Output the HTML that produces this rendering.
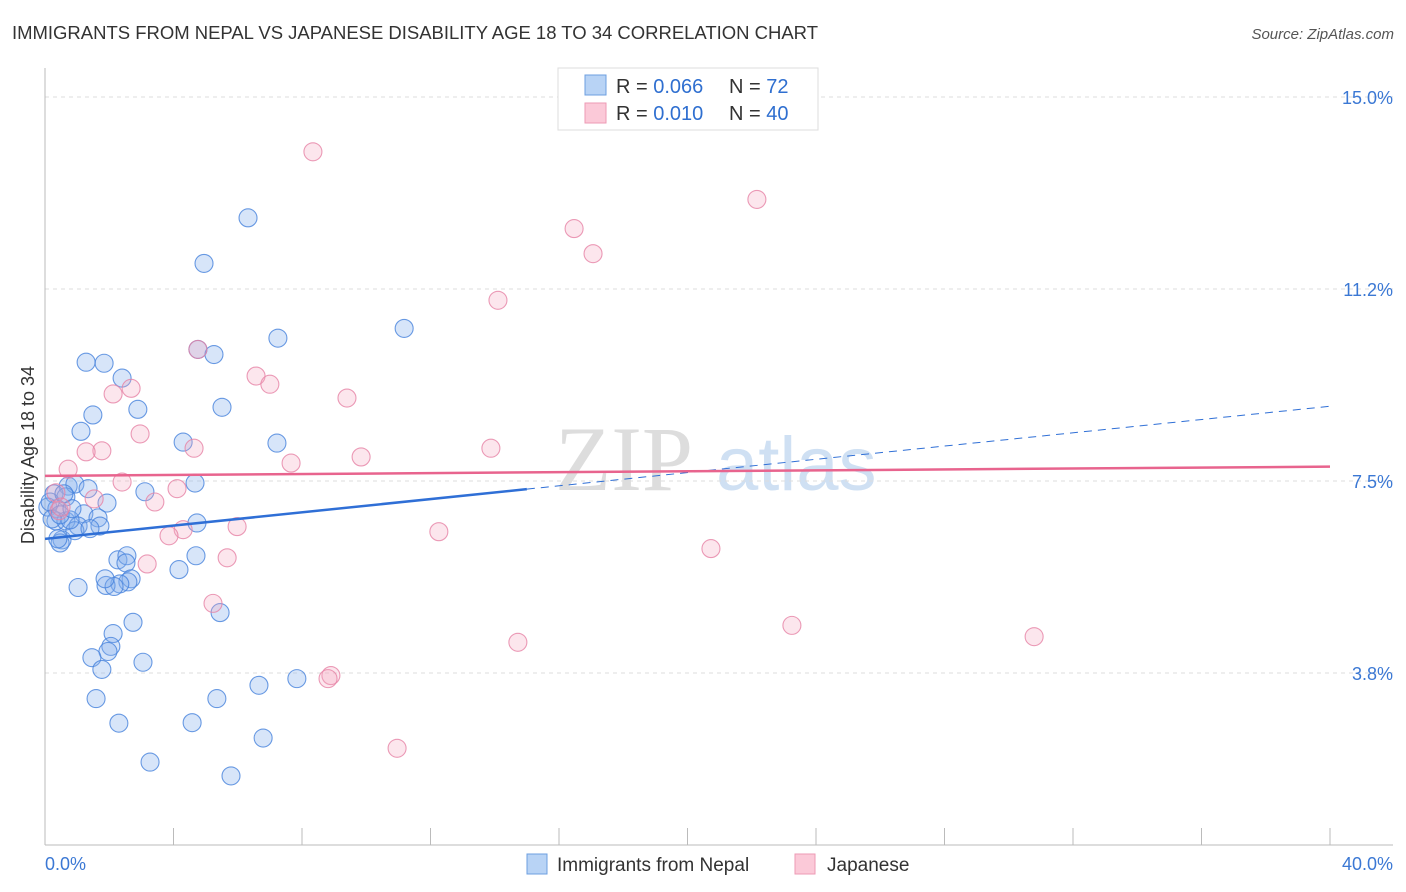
<!DOCTYPE html>
<html><head><meta charset="utf-8">
<style>
body{margin:0;background:#fff;font-family:"Liberation Sans",sans-serif;}
svg{display:block}
</style></head>
<body>
<svg id="chart" width="1406" height="892">
<text x="12" y="39" font-size="18.5" fill="#333" textLength="806">IMMIGRANTS FROM NEPAL VS JAPANESE DISABILITY AGE 18 TO 34 CORRELATION CHART</text>
<text x="1394" y="39" font-size="15" fill="#555" font-style="italic" text-anchor="end">Source: ZipAtlas.com</text>
<g>
<text x="555" y="490" font-size="92" fill="#ddd" font-family="Liberation Serif,serif">ZIP</text>
<text x="716" y="490" font-size="76" fill="#cfe0f3">atlas</text>
</g>
<g id="grid"></g>
<g id="axes"></g>
<g id="marks"></g>
<g>
<rect x="558" y="68" width="260" height="62" fill="#fff" stroke="#ddd"/>
<rect x="585" y="75" width="21" height="20" fill="#b8d3f5" stroke="#6d9fe0"/>
<rect x="585" y="103" width="21" height="20" fill="#fbc9d8" stroke="#ee9ab4"/>
<text x="616" y="93" font-size="20" fill="#333">R = <tspan fill="#2f6fd0">0.066</tspan></text>
<text x="729" y="93" font-size="20" fill="#333">N = <tspan fill="#2f6fd0"> 72</tspan></text>
<text x="616" y="120" font-size="20" fill="#333">R = <tspan fill="#2f6fd0"> 0.010</tspan></text>
<text x="729" y="120" font-size="20" fill="#333">N = <tspan fill="#2f6fd0">40</tspan></text>
</g>
<g>
<rect x="527" y="854" width="20" height="20" fill="#b8d3f5" stroke="#6d9fe0"/>
<text x="557" y="871" font-size="19" fill="#333">Immigrants from Nepal</text>
<rect x="795" y="854" width="20" height="20" fill="#fbc9d8" stroke="#ee9ab4"/>
<text x="827" y="871" font-size="19" fill="#333">Japanese</text>
</g>
<text x="34" y="455" font-size="18" fill="#333" text-anchor="middle" transform="rotate(-90 34 455)">Disability Age 18 to 34</text>
</svg>
<script>
const yTicks=[15.0,11.25,7.5,3.75];
const yTickLabels=["15.0%","11.2%","7.5%","3.8%"];
const xTickCount=10;
const nepalX=[6.32,4.95,11.18,7.25,4.76,5.26,1.28,1.84,2.40,2.89,5.51,1.49,1.12,4.30,7.22,4.67,3.11,0.72,0.93,1.34,0.28,0.65,1.93,0.09,0.37,1.21,1.65,0.34,0.65,1.03,1.71,0.53,0.93,4.73,0.47,4.70,2.27,2.55,2.52,4.17,2.68,2.58,2.33,1.90,1.03,2.15,5.45,2.74,2.12,2.05,1.96,1.46,3.05,1.77,7.84,6.66,1.59,5.35,4.58,2.30,6.79,3.27,5.79,0.22,0.78,0.16,0.47,1.40,0.84,0.59,1.87,0.40];
const nepalY=[12.64,11.75,10.48,10.29,10.07,9.97,9.82,9.80,9.51,8.90,8.94,8.79,8.47,8.26,8.24,7.46,7.29,7.40,7.44,7.35,7.25,7.19,7.07,6.99,6.96,6.86,6.78,6.72,6.72,6.62,6.62,6.35,6.53,6.68,6.29,6.04,5.96,6.04,5.90,5.77,5.59,5.53,5.49,5.46,5.42,5.44,4.93,4.74,4.52,4.27,4.17,4.05,3.96,3.82,3.64,3.51,3.25,3.25,2.78,2.77,2.48,2.01,1.74,6.76,6.74,7.09,6.84,6.57,6.96,7.25,5.59,6.37];
const japX=[8.34,22.16,16.47,17.06,14.10,4.76,6.57,7.00,2.68,2.12,9.40,2.96,4.64,13.88,1.77,1.28,9.84,7.66,0.72,2.40,4.11,1.53,3.42,0.34,0.44,0.50,5.98,4.30,3.86,12.26,20.73,5.67,3.18,5.23,23.25,14.72,30.79,8.90,8.81,10.96];
const japY=[13.93,13.00,12.43,11.94,11.03,10.07,9.55,9.39,9.31,9.20,9.12,8.42,8.14,8.14,8.09,8.07,7.97,7.85,7.73,7.48,7.35,7.15,7.09,7.27,6.92,6.99,6.61,6.55,6.43,6.51,6.18,6.00,5.88,5.11,4.68,4.35,4.46,3.70,3.64,2.28];
const nepalTrend=[6.37,8.96];
const japTrend=[7.60,7.78];
const nepalSolidEnd=15.0;

const NS="http://www.w3.org/2000/svg";
const sx=v=>45+v*(1285/40);
const sy=v=>97+(15-v)*51.2;
function mk(tag,attrs,parent){const e=document.createElementNS(NS,tag);for(const k in attrs)e.setAttribute(k,attrs[k]);document.getElementById(parent).appendChild(e);return e;}
yTicks.forEach((t,i)=>{
  const l=mk('line',{x1:45,x2:1393,y1:sy(t),y2:sy(t),stroke:'#ddd','stroke-dasharray':'4 4'},'grid');
  
  
  const tx=mk('text',{x:1393,y:sy(t)+7,'font-size':18,fill:'#3b78d4','text-anchor':'end'},'axes');
  tx.textContent=yTickLabels[i];
  
  
});
let a=mk('line',{x1:45,x2:45,y1:68,y2:845,stroke:'#bbb'},'axes');


a=mk('line',{x1:45,x2:1393,y1:845,y2:845,stroke:'#bbb'},'axes');


for(let i=0;i<=xTickCount;i++){
  const t=mk('line',{x1:sx(i*4),x2:sx(i*4),y1:828,y2:845,stroke:'#bbb'},'axes');
  
  
}
let xl=mk('text',{x:45,y:870,'font-size':18,fill:'#3b78d4'},'axes');xl.textContent='0.0%';


xl=mk('text',{x:1393,y:870,'font-size':18,fill:'#3b78d4','text-anchor':'end'},'axes');xl.textContent='40.0%';


nepalX.forEach((x,i)=>{
  const c=mk('circle',{cx:sx(x),cy:sy(nepalY[i]),r:9,fill:'rgba(130,175,235,0.32)',stroke:'rgba(70,130,220,0.8)','stroke-width':1.1},'marks');
  
  
});
japX.forEach((x,i)=>{
  const c=mk('circle',{cx:sx(x),cy:sy(japY[i]),r:9,fill:'rgba(245,165,190,0.28)',stroke:'rgba(230,130,165,0.8)','stroke-width':1.1},'marks');
  
  
});
const ty=(tr,x)=>tr[0]+(tr[1]-tr[0])*x/40;
let ln=mk('line',{x1:sx(0),y1:sy(ty(nepalTrend,0)),x2:sx(nepalSolidEnd),y2:sy(ty(nepalTrend,nepalSolidEnd)),stroke:'#2f6fd6','stroke-width':2.5},'marks');


ln=mk('line',{x1:sx(nepalSolidEnd),y1:sy(ty(nepalTrend,nepalSolidEnd)),x2:sx(40),y2:sy(ty(nepalTrend,40)),stroke:'#2f6fd6','stroke-width':1,'stroke-dasharray':'8 6'},'marks');


ln=mk('line',{x1:sx(0),y1:sy(japTrend[0]),x2:sx(40),y2:sy(japTrend[1]),stroke:'#e8648e','stroke-width':2.5},'marks');


</script>
</body></html>
